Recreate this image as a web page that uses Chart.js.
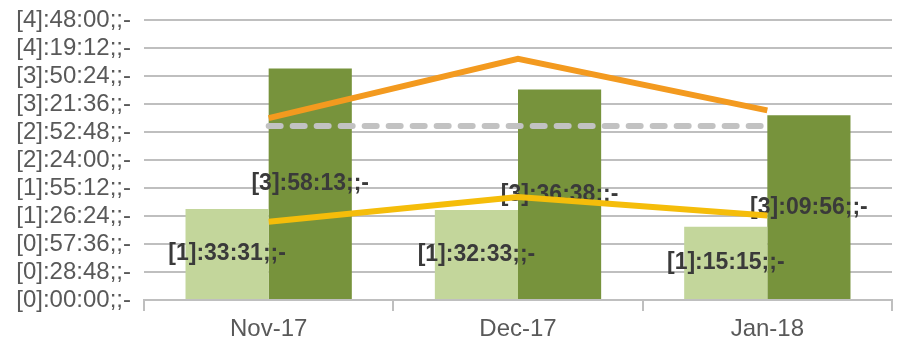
<!DOCTYPE html>
<html>
<head>
<meta charset="utf-8">
<script src="https://cdn.jsdelivr.net/npm/chart.js@4/dist/chart.umd.min.js"></script>
<style>
  html, body { margin: 0; padding: 0; background: #ffffff; }
  #wrap { width: 903px; height: 361px; }
</style>
</head>
<body>
<div id="wrap"><canvas id="c" width="903" height="361"></canvas></div>
<script>
// Monthly durations, written as h:mm:ss
const categories = ['Nov-17', 'Dec-17', 'Jan-18'];
const lightBarTimes = ['1:33:31', '1:32:33', '1:15:15'];
const darkBarTimes = ['3:58:13', '3:36:38', '3:09:56'];
const orangeLineTimes = ['3:07:00', '4:08:00', '3:15:00'];
const yellowLineTimes = ['1:20:30', '1:46:00', '1:27:00'];
const dashedLineTimes = ['2:59:00', '2:59:00', '2:59:00'];
const axisMaxTime = '4:48:00';
const axisStepTime = '0:28:48';

// durations are plotted as fractions of a day
function toDays(t) {
  const [h, m, s] = t.split(':').map(Number);
  return (h * 3600 + m * 60 + s) / 86400;
}
function pad(n) { return String(n).padStart(2, '0'); }
function formatDuration(days) {
  const total = Math.round(days * 86400);
  const h = Math.floor(total / 3600);
  const m = Math.floor((total % 3600) / 60);
  const s = total % 60;
  return '[' + h + ']:' + pad(m) + ':' + pad(s) + ';;-';
}

const FONT = '"Liberation Sans", Arial, sans-serif';
const GRID = '#bfbfbf';

// value labels centred in each bar, drawn before the lines go on top
const barLabels = {
  id: 'barLabels',
  afterDatasetDraw(chart, args) {
    const ds = chart.data.datasets[args.index];
    if (ds.type !== 'bar') return;
    const ctx = chart.ctx;
    ctx.save();
    ctx.font = 'bold 23px ' + FONT;
    ctx.fillStyle = '#3a3a3a';
    ctx.textAlign = 'center';
    ctx.textBaseline = 'middle';
    args.meta.data.forEach((el, i) => {
      const y = (el.y + el.base) / 2;
      ctx.fillText(formatDuration(ds.data[i]), el.x, y);
    });
    ctx.restore();
  }
};

new Chart(document.getElementById('c'), {
  data: {
    labels: categories,
    datasets: [
      {
        type: 'line', order: 0,
        data: orangeLineTimes.map(toDays),
        borderColor: '#f39a1f', borderWidth: 6,
        pointRadius: 0, tension: 0, borderJoinStyle: 'miter'
      },
      {
        type: 'line', order: 0,
        data: yellowLineTimes.map(toDays),
        borderColor: '#f5bd0a', borderWidth: 6,
        pointRadius: 0, tension: 0
      },
      {
        type: 'line', order: 0,
        data: dashedLineTimes.map(toDays),
        borderColor: '#c2c2c2', borderWidth: 6,
        borderDash: [12, 12], borderCapStyle: 'round',
        pointRadius: 0, tension: 0
      },
      {
        type: 'bar', order: 1,
        data: lightBarTimes.map(toDays),
        backgroundColor: '#c3d69b',
        categoryPercentage: 0.667, barPercentage: 1.0
      },
      {
        type: 'bar', order: 1,
        data: darkBarTimes.map(toDays),
        backgroundColor: '#77933c',
        categoryPercentage: 0.667, barPercentage: 1.0
      }
    ]
  },
  options: {
    responsive: false,
    animation: false,
    layout: { padding: { top: 20, right: 11, left: 0, bottom: 0 } },
    plugins: { legend: { display: false }, tooltip: { enabled: false } },
    scales: {
      x: {
        offset: true,
        grid: {
          offset: true, drawOnChartArea: false, drawTicks: true,
          tickLength: 11, color: GRID, lineWidth: 2
        },
        border: { display: true, color: GRID, width: 2 },
        ticks: { color: '#595959', font: { family: FONT, size: 24 }, padding: 4 },
        afterFit(s) { s.height = 61; }
      },
      y: {
        min: 0,
        max: toDays(axisMaxTime),
        grid: { color: GRID, lineWidth: 2, drawTicks: false },
        border: { display: false },
        ticks: {
          stepSize: toDays(axisStepTime),
          autoSkip: false,
          color: '#595959',
          font: { family: FONT, size: 24 },
          padding: 13,
          callback: (v) => formatDuration(v)
        },
        afterFit(s) {
          s.width = 144;
          s.paddingTop = 0;
          s.paddingBottom = 0;
        }
      }
    }
  },
  plugins: [barLabels]
});
</script>
</body>
</html>
